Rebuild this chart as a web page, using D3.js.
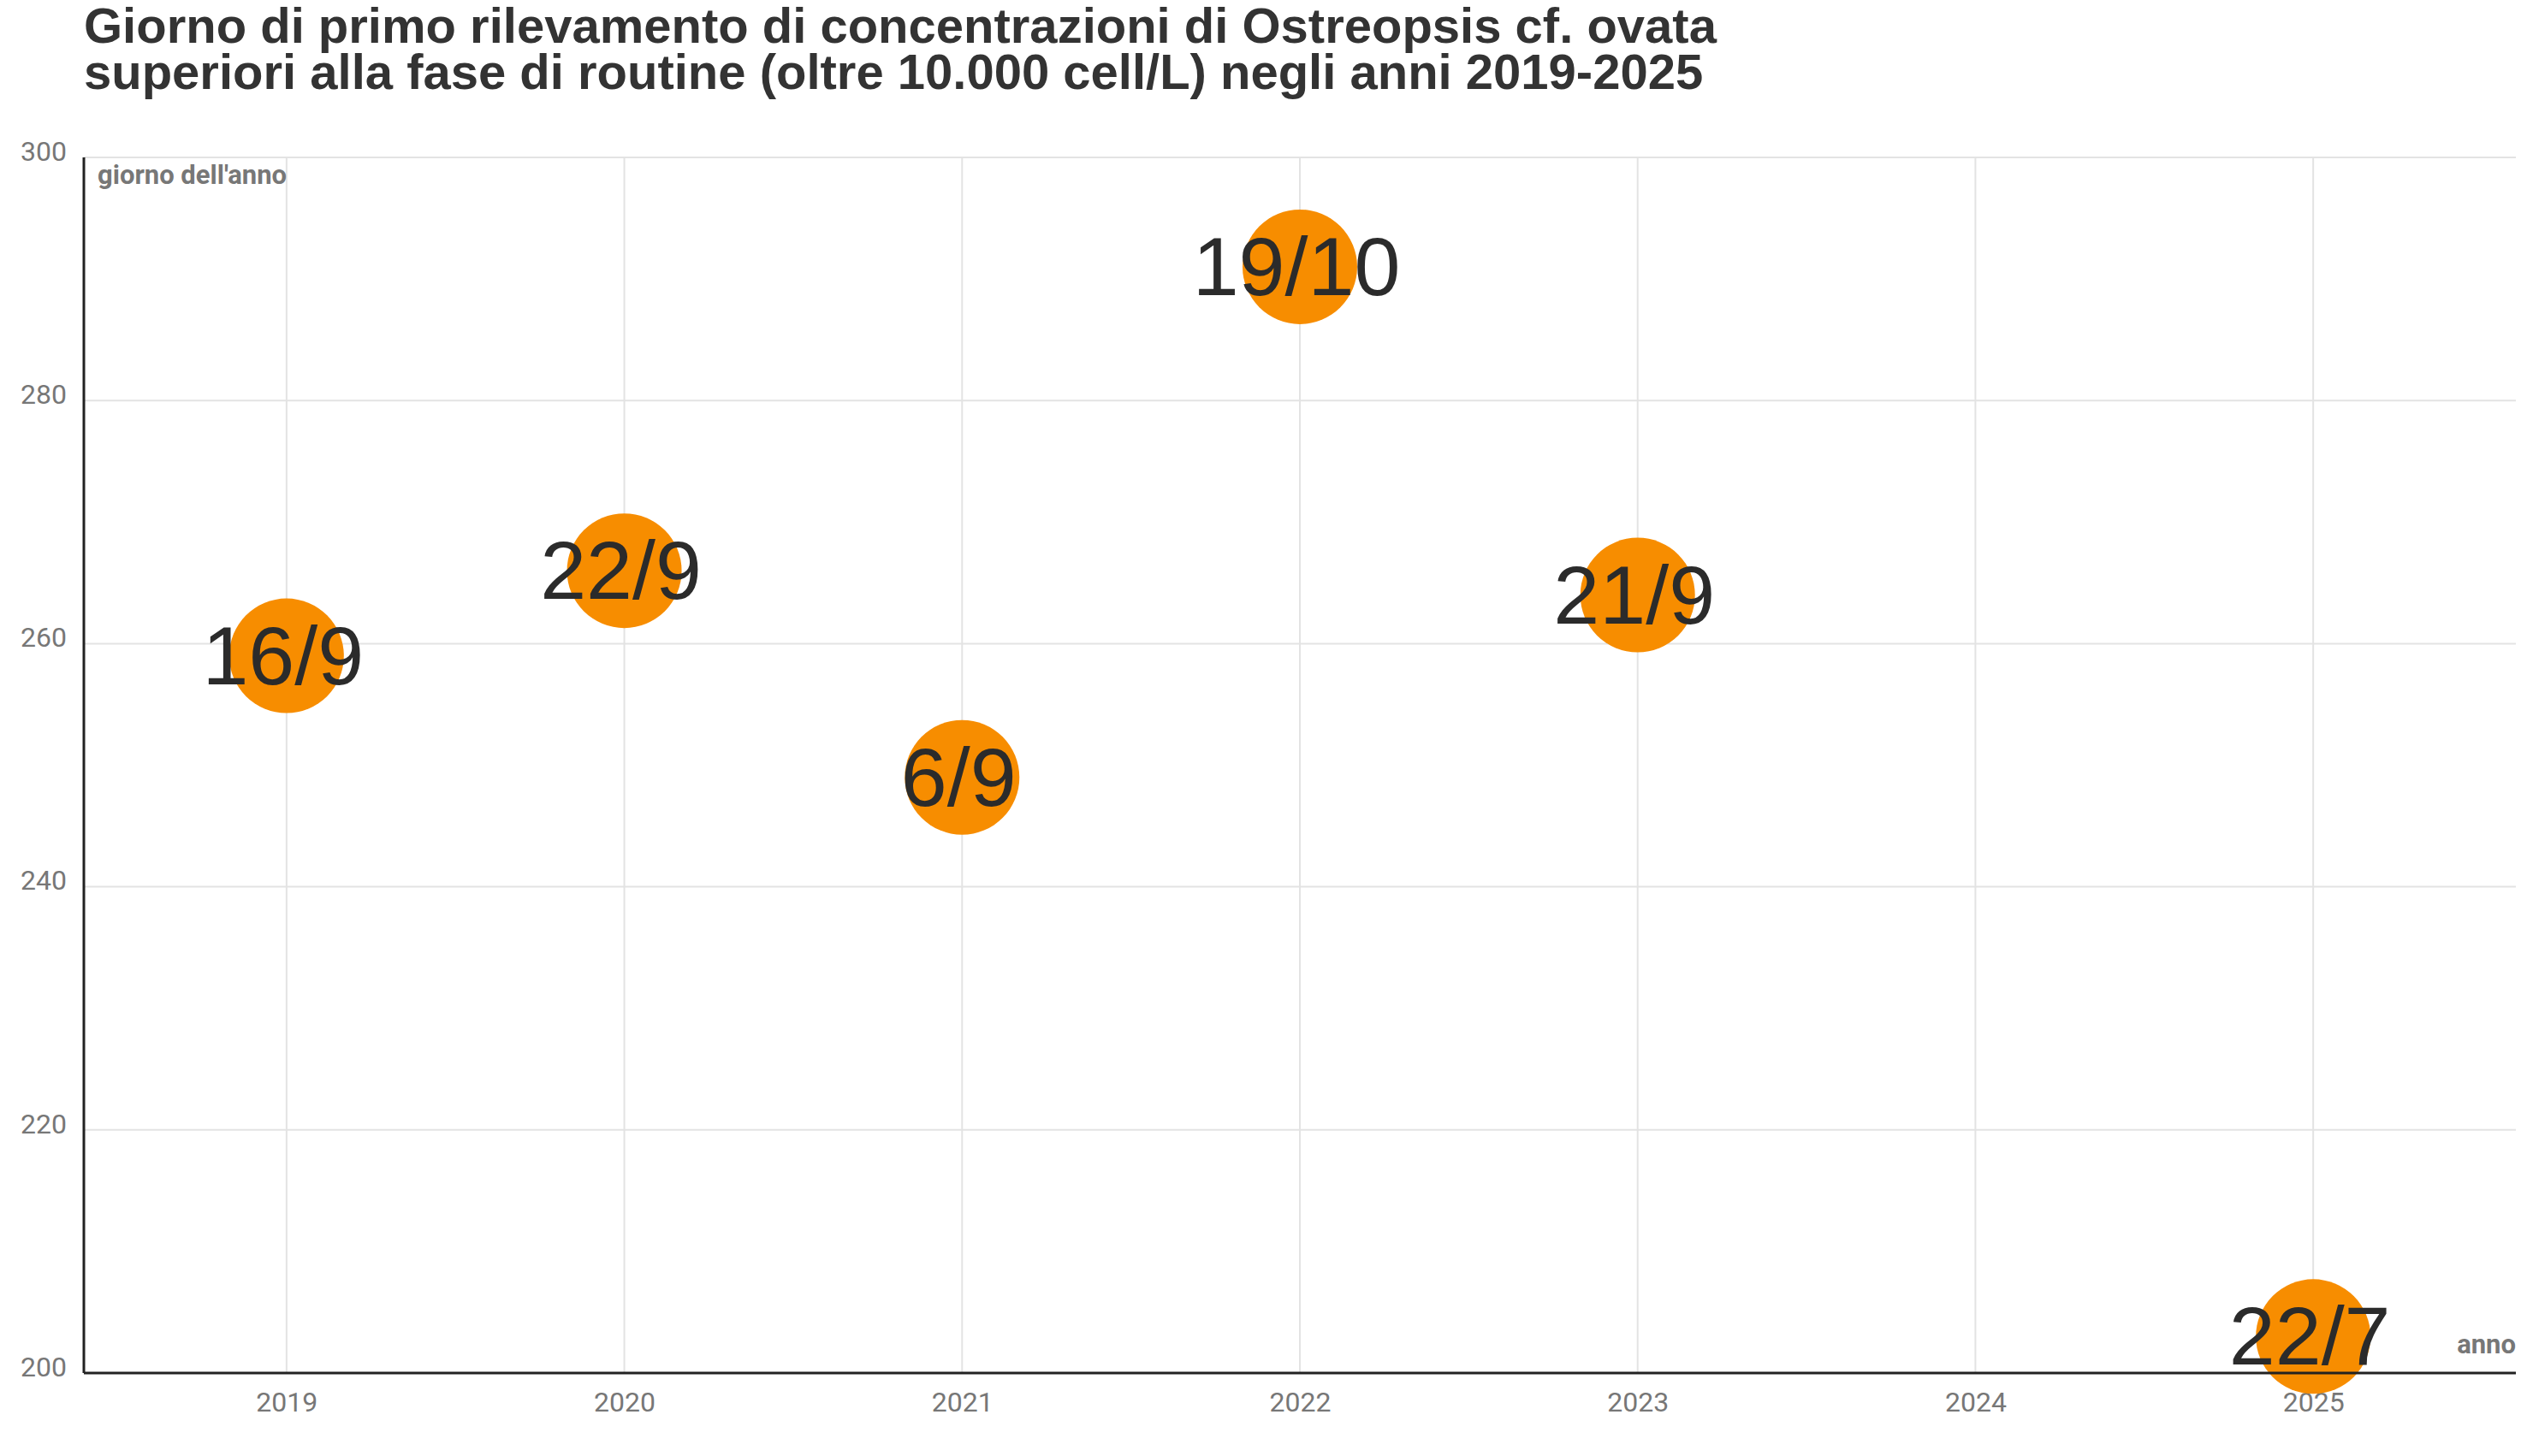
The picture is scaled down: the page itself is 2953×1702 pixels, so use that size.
<!DOCTYPE html>
<html><head><meta charset="utf-8">
<script src="https://cdn.jsdelivr.net/npm/d3@7"></script>
<style>body{margin:0;background:#fff}</style>
</head><body>
<svg id="chart" width="2953" height="1702"></svg>
<script>
// dati
var years = [2019, 2020, 2021, 2022, 2023, 2025];
var days = [259, 266, 249, 291, 264, 203];
var dateLabels = ["16/9", "22/9", "6/9", "19/10", "21/9", "22/7"];
var xTicks = [2019, 2020, 2021, 2022, 2023, 2024, 2025];
var yTicks = [200, 220, 240, 260, 280, 300];

var svg = d3.select("#chart");
var m = {left: 98, right: 2940, top: 184, bottom: 1605};

var x = d3.scaleLinear().domain([2018.4, 2025.6]).range([m.left, m.right]);
var y = d3.scaleLinear().domain([200, 300]).range([m.bottom, m.top]);

// titolo
svg.append("text").attr("x", 98).attr("y", 50)
    .attr("font-family", "Liberation Sans, Arial").attr("font-weight", "bold")
    .attr("font-size", 58).attr("fill", "#333")
    .text("Giorno di primo rilevamento di concentrazioni di Ostreopsis cf. ovata");
svg.append("text").attr("x", 98).attr("y", 104)
    .attr("font-family", "Liberation Sans, Arial").attr("font-weight", "bold")
    .attr("font-size", 58).attr("fill", "#333")
    .text("superiori alla fase di routine (oltre 10.000 cell/L) negli anni 2019-2025");

// griglia
svg.append("g").selectAll("line").data(yTicks).enter().append("line")
    .attr("x1", m.left).attr("x2", m.right)
    .attr("y1", function(d){ return y(d); }).attr("y2", function(d){ return y(d); })
    .attr("stroke", "#e3e3e3").attr("stroke-width", 2);
svg.append("g").selectAll("line").data(xTicks).enter().append("line")
    .attr("x1", function(d){ return x(d); }).attr("x2", function(d){ return x(d); })
    .attr("y1", m.top).attr("y2", m.bottom)
    .attr("stroke", "#e3e3e3").attr("stroke-width", 2);

// assi
var yAxis = svg.append("g").attr("transform", "translate(" + m.left + ",0)")
    .call(d3.axisLeft(y).tickValues(yTicks).tickSize(0).tickPadding(20));
var xAxis = svg.append("g").attr("transform", "translate(0," + m.bottom + ")")
    .call(d3.axisBottom(x).tickValues(xTicks).tickFormat(d3.format("d")).tickSize(0).tickPadding(22));
[yAxis, xAxis].forEach(function(a){
    a.select(".domain").remove();
    a.selectAll("text").attr("font-family", "Roboto").attr("font-size", 32).attr("fill", "#777");
});
yAxis.selectAll("text").attr("dy", "0.1em");

// punti
svg.append("g").selectAll("circle").data(years).enter().append("circle")
    .attr("cx", function(d){ return x(d); })
    .attr("cy", function(d, i){ return y(days[i]); })
    .attr("r", 67).attr("fill", "#f78d00");

svg.append("line").attr("x1", m.left).attr("x2", m.right).attr("y1", m.bottom).attr("y2", m.bottom)
    .attr("stroke", "#222").attr("stroke-width", 3);
svg.append("line").attr("x1", m.left).attr("x2", m.left).attr("y1", m.top).attr("y2", m.bottom)
    .attr("stroke", "#222").attr("stroke-width", 3);

svg.append("g").selectAll("text").data(years).enter().append("text")
    .attr("x", function(d){ return x(d) - 4; })
    .attr("y", function(d, i){ return y(days[i]) + 33; })
    .attr("text-anchor", "middle")
    .attr("font-family", "Liberation Sans, Arial").attr("font-size", 97).attr("fill", "#2b2b2b")
    .text(function(d, i){ return dateLabels[i]; });

// etichette assi
svg.append("text").attr("x", 114).attr("y", 215)
    .attr("font-family", "Roboto").attr("font-weight", "bold").attr("font-size", 31).attr("fill", "#777")
    .text("giorno dell'anno");
svg.append("text").attr("x", 2940).attr("y", 1582).attr("text-anchor", "end")
    .attr("font-family", "Roboto").attr("font-weight", "bold").attr("font-size", 31).attr("fill", "#777")
    .text("anno");
</script>
</body></html>
